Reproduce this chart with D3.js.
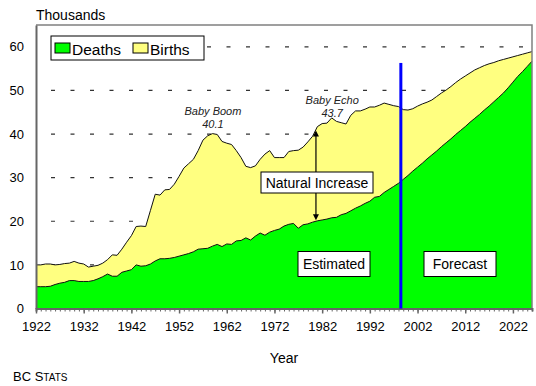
<!DOCTYPE html>
<html>
<head>
<meta charset="utf-8">
<script src="https://cdn.jsdelivr.net/npm/d3@7"></script>
<style>
  body { margin: 0; background: #fff; }
  svg { display: block; font-family: "Liberation Sans", Arial, sans-serif; }
</style>
</head>
<body>
<svg id="chart" width="536" height="386"></svg>
<script>
// Annual births and deaths in British Columbia (thousands), estimates to 1998, forecast after
const years = d3.range(1922, 2027);
const births = [
  10.0, 10.0, 10.2, 10.2, 10.0, 10.1, 10.3, 10.4, 10.8, 10.4,
  10.2, 9.5, 9.7, 9.9, 10.4, 11.2, 12.3, 12.2, 13.6, 15.2,
  16.7, 18.8, 18.9, 18.8, 22.5, 26.2, 26.0, 27.2, 27.3, 28.5,
  30.3, 32.2, 33.2, 34.2, 36.2, 38.6, 39.6, 40.1, 39.9, 38.3,
  37.9, 37.6, 36.2, 34.6, 32.6, 32.3, 32.7, 34.2, 35.4, 36.2,
  34.6, 34.6, 34.6, 36.0, 36.2, 36.3, 37.0, 38.2, 39.5, 41.7,
  42.4, 42.5, 43.7, 42.9, 42.6, 42.3, 44.3, 45.3, 45.3, 45.7,
  46.2, 46.2, 46.6, 47.1, 46.8, 46.5, 46.3, 45.6, 45.5, 45.8,
  46.4, 46.9, 47.3, 47.8, 48.6, 49.4, 50.1, 50.9, 51.8, 52.6,
  53.3, 54.0, 54.7, 55.2, 55.7, 56.1, 56.4, 56.8, 57.1, 57.4,
  57.7, 58.0, 58.3, 58.6, 58.9
];
const deaths = [
  5.0, 5.0, 5.0, 5.1, 5.5, 5.8, 6.0, 6.4, 6.4, 6.2,
  6.2, 6.2, 6.4, 6.8, 7.3, 7.9, 7.4, 7.4, 8.3, 8.6,
  8.9, 10.0, 9.7, 9.8, 10.2, 10.9, 11.4, 11.4, 11.5, 11.7,
  12.0, 12.3, 12.6, 13.0, 13.6, 13.7, 13.8, 14.3, 14.7, 14.2,
  14.8, 14.7, 15.5, 15.6, 16.2, 15.7, 16.6, 17.3, 16.8, 17.5,
  17.9, 18.2, 18.9, 19.3, 19.5, 18.4, 19.2, 19.4, 19.8, 20.1,
  20.3, 20.5, 20.8, 20.9, 21.5, 21.8, 22.4, 23.0, 23.5, 24.1,
  24.6, 25.5, 25.7, 26.6, 27.3, 28.0, 28.7, 29.6, 30.5, 31.5,
  32.4, 33.3, 34.3, 35.2, 36.1, 37.1, 38.0, 38.9, 39.9, 40.8,
  41.7, 42.7, 43.6, 44.5, 45.5, 46.4, 47.4, 48.4, 49.4, 50.6,
  51.9, 53.2, 54.3, 55.5, 56.7
];
const yTicks = [0, 10, 20, 30, 40, 50, 60];
const xTickYears = [1922, 1932, 1942, 1952, 1962, 1972, 1982, 1992, 2002, 2012, 2022];
const seriesNames = ["Deaths", "Births"];
const seriesColors = ["#00ff00", "#ffff80"];
const peaks = [
  { name: "Baby Boom", year: 1959, value: 40.1, lift: 18.5 },
  { name: "Baby Echo", year: 1984, value: 43.7, lift: 13.7 }
];
const splitYear = 1998.5;     // estimates end, forecast begins
const splitTop = 56.3;
const increaseYear = 1980.7;  // where the natural-increase arrow is drawn

const svg = d3.select("#chart");
const margin = { left: 36, top: 25, right: 4, bottom: 77 };
const W = 536, H = 386;

const x = d3.scaleLinear().domain([1922, 2026]).range([margin.left, W - margin.right]);
const y = d3.scaleLinear().domain([0, 65]).range([H - margin.bottom - 0.5, margin.top]);

const data = years.map((yr, i) => ({ yr, b: births[i], d: deaths[i] }));

// dashed gridlines
svg.append("g").selectAll("line").data(yTicks.filter(v => v > 0)).join("line")
  .attr("x1", x(1922) + 2).attr("x2", x(2026))
  .attr("y1", d => y(d)).attr("y2", d => y(d))
  .attr("stroke", "#333").attr("stroke-width", 1.2)
  .attr("stroke-dasharray", "4,15.5").attr("stroke-dashoffset", -13);

// births area (from zero, deaths drawn on top)
const areaB = d3.area().x(d => x(d.yr)).y0(y(0)).y1(d => y(d.b));
const areaD = d3.area().x(d => x(d.yr)).y0(y(0)).y1(d => y(d.d));
svg.append("path").datum(data).attr("d", areaB).attr("fill", seriesColors[1]);
svg.append("path").datum(data).attr("d", areaD).attr("fill", seriesColors[0]);
svg.append("path").datum(data)
  .attr("d", d3.line().x(d => x(d.yr)).y(d => y(d.b)))
  .attr("fill", "none").attr("stroke", "#111").attr("stroke-width", 1);
svg.append("path").datum(data)
  .attr("d", d3.line().x(d => x(d.yr)).y(d => y(d.d)))
  .attr("fill", "none").attr("stroke", "#111").attr("stroke-width", 1);

// plot frame
svg.append("path")
  .attr("d", `M${x(1922)},${y(65)}H${x(2026)}V${y(0)}`)
  .attr("fill", "none").attr("stroke", "#808080").attr("stroke-width", 1.5);

// y axis
const yAxis = svg.append("g").attr("transform", `translate(${x(1922)},0)`)
  .call(d3.axisLeft(y).tickValues(yTicks).tickSize(0).tickPadding(12));
yAxis.select(".domain").attr("stroke", "#666").attr("stroke-width", 2);
yAxis.selectAll("text").attr("font-size", 13).attr("fill", "#000")
  .attr("font-family", "Liberation Sans, Arial, sans-serif");

// x axis: yearly minor ticks, decade major ticks
const xAxisMinor = svg.append("g").attr("transform", `translate(0,${y(0)})`)
  .call(d3.axisBottom(x).tickValues(d3.range(1922, 2027)).tickSize(3).tickFormat(""));
xAxisMinor.select(".domain").attr("stroke", "#666").attr("stroke-width", 2);
xAxisMinor.selectAll(".tick line").attr("stroke", "#666");
const xAxis = svg.append("g").attr("transform", `translate(0,${y(0)})`)
  .call(d3.axisBottom(x).tickValues(xTickYears).tickSize(5).tickPadding(8).tickFormat(d3.format("d")));
xAxis.select(".domain").remove();
xAxis.selectAll(".tick line").attr("stroke", "#666").attr("stroke-width", 1.5);
xAxis.selectAll("text").attr("font-size", 13).attr("fill", "#000")
  .attr("font-family", "Liberation Sans, Arial, sans-serif");

// forecast divider
svg.append("line")
  .attr("x1", x(splitYear)).attr("x2", x(splitYear))
  .attr("y1", y(splitTop)).attr("y2", y(0))
  .attr("stroke", "#0000ff").attr("stroke-width", 3);

// natural increase arrow
function valueAt(arr, yr) {
  const i = Math.floor(yr - 1922), t = yr - 1922 - i;
  return arr[i] + (arr[i + 1] - arr[i]) * t;
}
const ax = x(increaseYear);
const aTop = y(valueAt(births, increaseYear)) + 1;
const aBot = y(valueAt(deaths, increaseYear)) - 1;
svg.append("line").attr("x1", ax).attr("x2", ax).attr("y1", aTop + 4).attr("y2", aBot - 4)
  .attr("stroke", "#000").attr("stroke-width", 1.2);
svg.append("path").attr("d", `M${ax},${aTop}l-3,6h6z`).attr("fill", "#000");
svg.append("path").attr("d", `M${ax},${aBot}l-3,-6h6z`).attr("fill", "#000");

// boxed labels
function boxLabel(cx, cy, w, h, text) {
  svg.append("rect").attr("x", cx - w / 2).attr("y", cy - h / 2).attr("width", w).attr("height", h)
    .attr("fill", "#fff").attr("stroke", "#000").attr("stroke-width", 1);
  svg.append("text").attr("x", cx).attr("y", cy + 5).attr("text-anchor", "middle")
    .attr("font-size", 14).text(text);
}
boxLabel(317, 182.5, 112, 21, "Natural Increase");
boxLabel(334, 264, 72, 25, "Estimated");
boxLabel(460, 264, 72, 25, "Forecast");

// peak annotations
peaks.forEach(p => {
  const g = svg.append("g").attr("font-size", 11).attr("font-style", "italic")
    .attr("text-anchor", "middle").attr("fill", "#222");
  const lx = x(p.year + 0.1);
  const ly = y(p.value) - p.lift;
  g.append("text").attr("x", lx).attr("y", ly).text(p.name);
  g.append("text").attr("x", lx).attr("y", ly + 13).text(p.value.toFixed(1));
});

// legend
const lg = svg.append("g");
lg.append("rect").attr("x", 51).attr("y", 36).attr("width", 153).attr("height", 24)
  .attr("fill", "#fff").attr("stroke", "#000").attr("stroke-width", 1);
const legendX = [55, 133];
seriesNames.forEach((n, i) => {
  lg.append("rect").attr("x", legendX[i]).attr("y", 43).attr("width", 15).attr("height", 10)
    .attr("fill", seriesColors[i]).attr("stroke", "#000").attr("stroke-width", 1);
  lg.append("text").attr("x", legendX[i] + 17).attr("y", 55).attr("font-size", 15.5).text(n);
});

// titles
svg.append("text").attr("x", 36).attr("y", 20).attr("font-size", 14).text("Thousands");
svg.append("text").attr("x", 284).attr("y", 363).attr("text-anchor", "middle")
  .attr("font-size", 14).text("Year");
const bc = svg.append("text").attr("x", 13).attr("y", 381).attr("font-size", 13);
bc.append("tspan").text("BC S");
bc.append("tspan").attr("font-size", 10).text("TATS");
</script>
</body>
</html>
